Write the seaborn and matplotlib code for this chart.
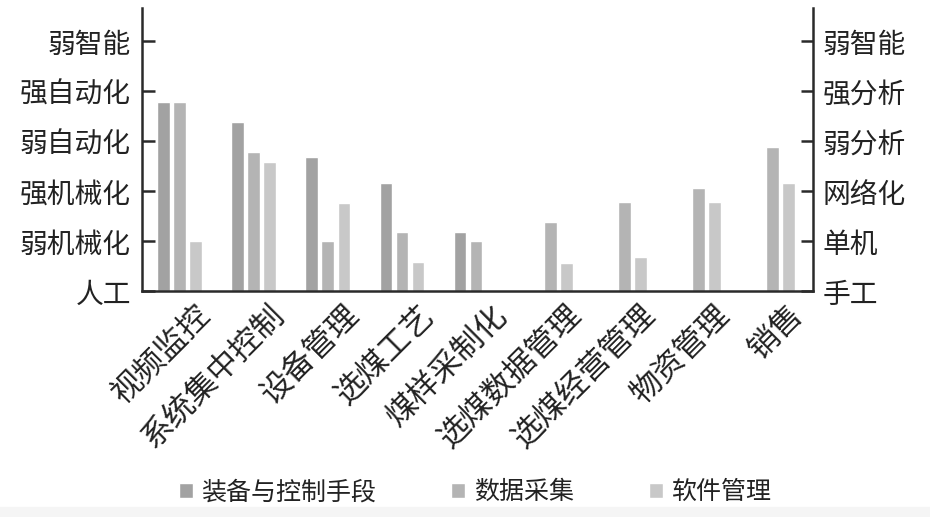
import matplotlib
matplotlib.use('Agg')
import matplotlib.pyplot as plt
import matplotlib.transforms as mtransforms
import seaborn as sns
import pandas as pd

# 各环节名称
categories = ['视频监控', '系统集中控制', '设备管理', '选煤工艺', '煤样采制化',
              '选煤数据管理', '选煤经营管理', '物资管理', '销售']
# 三类指标的水平 (0 = 人工/手工)
equip = [3.78, 3.38, 2.68, 2.17, 1.19, 0, 0, 0, 0]
data_col = [3.78, 2.79, 1.0, 1.19, 1.0, 1.39, 1.78, 2.07, 2.88]
software = [1.0, 2.58, 1.77, 0.58, 0, 0.57, 0.68, 1.78, 2.17]
series_names = ['装备与控制手段', '数据采集', '软件管理']
left_labels = ['人工', '弱机械化', '强机械化', '弱自动化', '强自动化', '弱智能']
right_labels = ['手工', '单机', '网络化', '弱分析', '强分析', '弱智能']

df = pd.DataFrame({
    '环节': categories * 3,
    '水平': equip + data_col + software,
    '类别': [n for n in series_names for _ in categories],
})

sns.set_theme(style='white')
plt.rcParams['font.family'] = ['Noto Sans CJK SC', 'DejaVu Sans']

fig = plt.figure(figsize=(9.3, 5.17), dpi=100)
# light strip along the bottom edge
fig.patches.append(plt.Rectangle((0, 0), 1, 0.02, transform=fig.transFigure,
                                 color='#f5f5f5', zorder=0))
ax = fig.add_axes([0.1527, 0.437, 0.7215, 0.5475])

sns.barplot(data=df, x='环节', y='水平', hue='类别',
            palette=['#a2a2a2', '#b4b4b4', '#c8c8c8'],
            width=0.65, gap=0.2, errorbar=None, ax=ax)

ax.set_xlim(-0.51, 8.55)
ax.set_ylim(0, 5.66)
ax.set_xlabel('')
ax.set_ylabel('')

for side in ['left', 'right', 'bottom']:
    ax.spines[side].set_visible(True)
    ax.spines[side].set_color('#2a2a2a')
    ax.spines[side].set_linewidth(1.8)
ax.spines['top'].set_visible(False)

ax.set_yticks(range(6))
ax.set_yticklabels(left_labels, fontsize=20, color='#222222')
ax.tick_params(axis='y', direction='in', length=9, width=1.8, color='#2a2a2a', pad=8, left=True)

ax.set_xticks(range(len(categories)))
ax.set_xticklabels(categories, rotation=45, ha='right', va='center',
                   rotation_mode='anchor', fontsize=22.5, color='#222222')
ax.tick_params(axis='x', length=0, pad=0)
offset = mtransforms.ScaledTranslation(19 / 72, -14 / 72, fig.dpi_scale_trans)
for lbl in ax.get_xticklabels():
    lbl.set_transform(lbl.get_transform() + offset)

# right-hand axis for the information level
ax2 = ax.twinx()
ax2.set_ylim(ax.get_ylim())
ax2.set_yticks(range(6))
ax2.set_yticklabels(right_labels, fontsize=20, color='#222222')
ax2.tick_params(axis='y', direction='in', length=9, width=1.8, color='#2a2a2a', pad=7, right=True)
for side in ['left', 'top', 'bottom', 'right']:
    ax2.spines[side].set_visible(False)

handles, labels = ax.get_legend_handles_labels()
ax.legend_.remove()
fig.legend(handles, labels, loc='center', bbox_to_anchor=(0.511, 0.048),
           ncol=3, frameon=False, fontsize=18, handlelength=0.55, handleheight=0.55,
           handletextpad=0.35, columnspacing=3.0, labelcolor='#222222')

fig.savefig('out.png', dpi=100)
